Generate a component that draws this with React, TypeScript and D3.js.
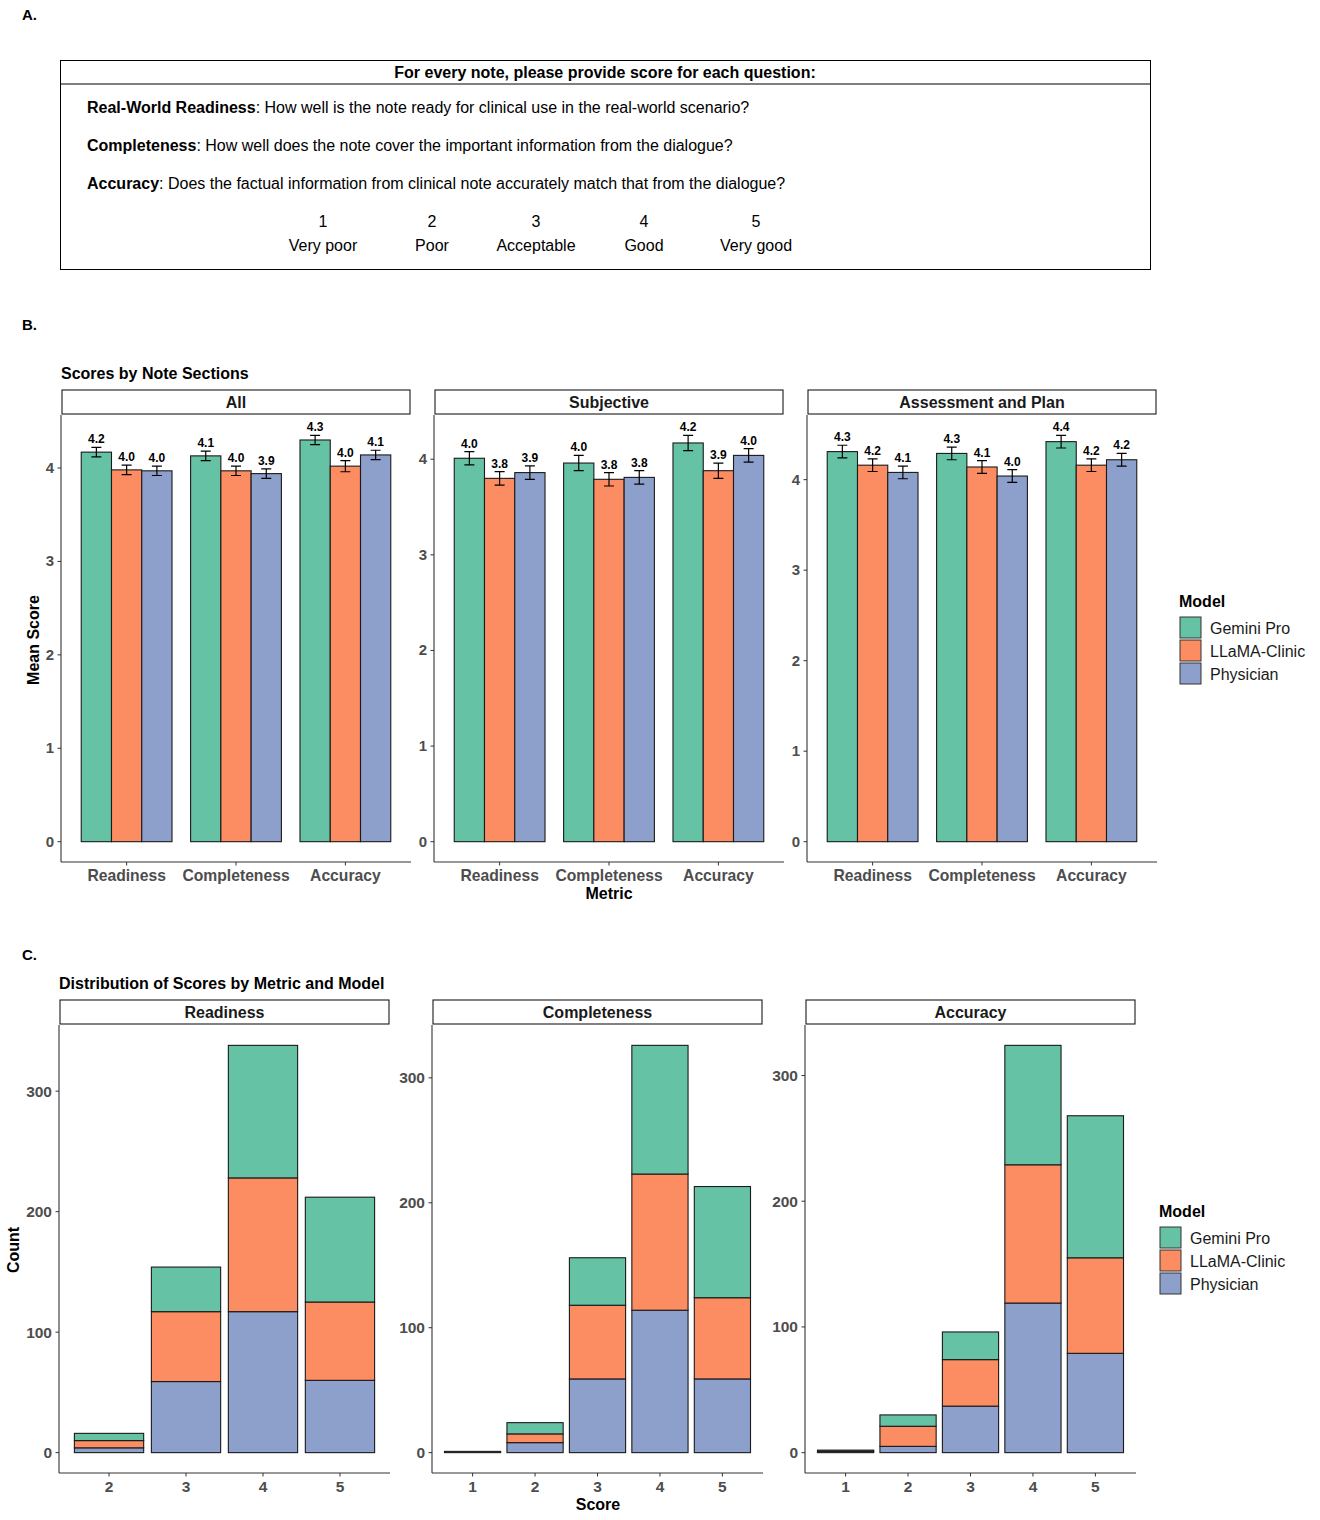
import * as d3 from "d3";

const FONT = "Liberation Sans, Arial, Helvetica, sans-serif";

const models = ["Gemini Pro", "LLaMA-Clinic", "Physician"];
const modelColors = ["#66c2a5", "#fc8d62", "#8da0cb"];
const metrics = ["Readiness", "Completeness", "Accuracy"];
const sections = ["All", "Subjective", "Assessment and Plan"];

// mean score per metric (rows) and model (columns)
const meanAll = [
  [4.17, 3.98, 3.97],
  [4.13, 3.97, 3.94],
  [4.3, 4.02, 4.14],
];
const meanSubjective = [
  [4.01, 3.8, 3.86],
  [3.96, 3.79, 3.81],
  [4.17, 3.88, 4.04],
];
const meanAssessment = [
  [4.31, 4.16, 4.08],
  [4.29, 4.14, 4.04],
  [4.42, 4.16, 4.22],
];
// standard errors
const errAll = [
  [0.05, 0.05, 0.05],
  [0.05, 0.05, 0.05],
  [0.05, 0.06, 0.05],
];
const errSubjective = [
  [0.07, 0.07, 0.07],
  [0.08, 0.07, 0.07],
  [0.08, 0.08, 0.07],
];
const errAssessment = [
  [0.07, 0.07, 0.07],
  [0.07, 0.07, 0.07],
  [0.07, 0.07, 0.07],
];

// score distributions
const readinessScores = ["2", "3", "4", "5"];
const readinessGemini = [6, 37, 110, 87];
const readinessLlama = [6, 58, 111, 65];
const readinessPhysician = [4, 59, 117, 60];

const completenessScores = ["1", "2", "3", "4", "5"];
const completenessGemini = [1, 9, 38, 103, 89];
const completenessLlama = [0, 7, 59, 109, 65];
const completenessPhysician = [0, 8, 59, 114, 59];

const accuracyScores = ["1", "2", "3", "4", "5"];
const accuracyGemini = [1, 9, 22, 95, 113];
const accuracyLlama = [1, 16, 37, 110, 76];
const accuracyPhysician = [0, 5, 37, 119, 79];

const scaleLevels = ["1", "2", "3", "4", "5"];
const scaleNames = ["Very poor", "Poor", "Acceptable", "Good", "Very good"];

const AXIS = "#333333";
const TICK_TEXT = "#4d4d4d";
const BAR_STROKE = "#1a1a1a";

function Strip({ x, y, w, label }) {
  return (
    <g>
      <rect x={x + 1} y={y} width={w - 2} height={24} fill="white" stroke={BAR_STROKE} strokeWidth={1.1} />
      <text x={x + w / 2} y={y + 18} textAnchor="middle" fontSize={16} fontWeight="bold" fill="#1a1a1a">
        {label}
      </text>
    </g>
  );
}

function MeanPanel({ x0, label, means, errs }) {
  const w = 350;
  const top = 415;
  const bottom = 862;
  const yMax = d3.max(means.flatMap((r, i) => r.map((m, j) => m + errs[i][j])));
  const pad = yMax * 0.05;
  const y = d3.scaleLinear().domain([-pad, yMax + pad]).range([bottom, top]);
  const x = d3.scalePoint().domain(metrics).range([x0, x0 + w]).padding(0.6);
  const step = x.step();
  const groupW = step * 0.83;
  const xm = d3.scaleBand().domain(models).range([0, groupW]);
  const fmt = d3.format(".1f");
  return (
    <g>
      <Strip x={x0} y={390} w={w} label={label} />
      {metrics.map((m, i) =>
        models.map((md, j) => {
          const bx = x(m) - groupW / 2 + xm(md);
          const v = means[i][j];
          const e = errs[i][j];
          const cx = bx + xm.bandwidth() / 2;
          return (
            <g key={m + md}>
              <rect x={bx} y={y(v)} width={xm.bandwidth()} height={y(0) - y(v)} fill={modelColors[j]} stroke={BAR_STROKE} strokeWidth={1.1} />
              <path
                d={`M${cx - 5},${y(v + e)}H${cx + 5}M${cx},${y(v + e)}V${y(v - e)}M${cx - 5},${y(v - e)}H${cx + 5}`}
                stroke="black"
                strokeWidth={1.2}
                fill="none"
              />
              <text x={cx} y={y(v + e) - 4} textAnchor="middle" fontSize={12} fontWeight="bold" fill="black">
                {fmt(v)}
              </text>
            </g>
          );
        })
      )}
      <line x1={x0} x2={x0} y1={top} y2={bottom} stroke={AXIS} strokeWidth={1.1} />
      <line x1={x0} x2={x0 + w} y1={bottom} y2={bottom} stroke={AXIS} strokeWidth={1.1} />
      {[0, 1, 2, 3, 4].map((t) => (
        <g key={t}>
          <line x1={x0 - 3.5} x2={x0} y1={y(t)} y2={y(t)} stroke={AXIS} strokeWidth={1} />
          <text x={x0 - 7} y={y(t) + 5} textAnchor="end" fontSize={15} fontWeight="bold" fill={TICK_TEXT}>
            {t}
          </text>
        </g>
      ))}
      {metrics.map((m) => (
        <g key={m}>
          <line x1={x(m)} x2={x(m)} y1={bottom} y2={bottom + 3.5} stroke={AXIS} strokeWidth={1} />
          <text x={x(m)} y={bottom + 19} textAnchor="middle" fontSize={15.7} fontWeight="bold" fill={TICK_TEXT}>
            {m}
          </text>
        </g>
      ))}
    </g>
  );
}

function CountPanel({ x0, label, scores, series }) {
  const w = 331;
  const top = 1025;
  const bottom = 1473;
  const rows = scores.map((s, i) => ({
    score: s,
    Physician: series[2][i],
    "LLaMA-Clinic": series[1][i],
    "Gemini Pro": series[0][i],
  }));
  const stack = d3.stack().keys(["Physician", "LLaMA-Clinic", "Gemini Pro"])(rows);
  const yMax = d3.max(rows, (r) => r.Physician + r["LLaMA-Clinic"] + r["Gemini Pro"]);
  const pad = yMax * 0.05;
  const y = d3.scaleLinear().domain([-pad, yMax + pad]).range([bottom, top]);
  const x = d3.scalePoint().domain(scores).range([x0, x0 + w]).padding(0.65);
  const bw = x.step() * 0.9;
  return (
    <g>
      <Strip x={x0} y={1000} w={w} label={label} />
      {stack.map((layer) => {
        const ci = models.indexOf(layer.key);
        return layer.map((d, i) =>
          d[1] - d[0] > 0 ? (
            <rect
              key={layer.key + i}
              x={x(scores[i]) - bw / 2}
              y={y(d[1])}
              width={bw}
              height={y(d[0]) - y(d[1])}
              fill={modelColors[ci]}
              stroke={BAR_STROKE}
              strokeWidth={1.1}
            />
          ) : null
        );
      })}
      <line x1={x0} x2={x0} y1={top} y2={bottom} stroke={AXIS} strokeWidth={1.1} />
      <line x1={x0} x2={x0 + w} y1={bottom} y2={bottom} stroke={AXIS} strokeWidth={1.1} />
      {y.ticks(4).filter((t) => t >= 0 && t % 100 === 0).map((t) => (
        <g key={t}>
          <line x1={x0 - 3.5} x2={x0} y1={y(t)} y2={y(t)} stroke={AXIS} strokeWidth={1} />
          <text x={x0 - 7} y={y(t) + 5.5} textAnchor="end" fontSize={15.5} fontWeight="bold" fill={TICK_TEXT}>
            {t}
          </text>
        </g>
      ))}
      {scores.map((s) => (
        <g key={s}>
          <line x1={x(s)} x2={x(s)} y1={bottom} y2={bottom + 3.5} stroke={AXIS} strokeWidth={1} />
          <text x={x(s)} y={bottom + 19} textAnchor="middle" fontSize={15.5} fontWeight="bold" fill={TICK_TEXT}>
            {s}
          </text>
        </g>
      ))}
    </g>
  );
}

function Legend({ x, y }) {
  return (
    <g>
      <text x={x - 1} y={y} fontSize={16} fontWeight="bold" fill="black">
        Model
      </text>
      {models.map((m, i) => (
        <g key={m}>
          <rect x={x} y={y + 10 + i * 23} width={21} height={21} fill={modelColors[i]} stroke="#333" strokeWidth={1} />
          <text x={x + 30} y={y + 26.5 + i * 23} fontSize={16} fill="#1a1a1a">
            {m}
          </text>
        </g>
      ))}
    </g>
  );
}

const questions = [
  ["Real-World Readiness", ": How well is the note ready for clinical use in the real-world scenario?"],
  ["Completeness", ": How well does the note cover the important information from the dialogue?"],
  ["Accuracy", ": Does the factual information from clinical note accurately match that from the dialogue?"],
];
const scaleX = [323, 432, 536, 644, 756];

export default function App() {
  return (
    <svg
      width={1320}
      height={1520}
      style={{ position: "absolute", left: 0, top: 0, background: "white" }}
      fontFamily={FONT}
    >
      {/* A. */}
      <text x={22} y={20} fontSize={15} fontWeight="bold">A.</text>
      <rect x={60.5} y={60.5} width={1090} height={209} fill="white" stroke="black" strokeWidth={1} />
      <line x1={60.5} x2={1150.5} y1={84} y2={84} stroke="black" strokeWidth={1} />
      <text x={605} y={77.5} textAnchor="middle" fontSize={16} fontWeight="bold">
        For every note, please provide score for each question:
      </text>
      {questions.map((q, i) => (
        <text key={q[0]} x={87} y={112.5 + i * 38} fontSize={16}>
          <tspan fontWeight="bold">{q[0]}</tspan>
          <tspan>{q[1]}</tspan>
        </text>
      ))}
      {scaleLevels.map((s, i) => (
        <g key={s}>
          <text x={scaleX[i]} y={227} textAnchor="middle" fontSize={16}>{s}</text>
          <text x={scaleX[i]} y={250.5} textAnchor="middle" fontSize={16}>{scaleNames[i]}</text>
        </g>
      ))}

      {/* B. */}
      <text x={22} y={330} fontSize={15} fontWeight="bold">B.</text>
      <text x={61} y={379} fontSize={16} fontWeight="bold">Scores by Note Sections</text>
      <MeanPanel x0={61} label={sections[0]} means={meanAll} errs={errAll} />
      <MeanPanel x0={434} label={sections[1]} means={meanSubjective} errs={errSubjective} />
      <MeanPanel x0={807} label={sections[2]} means={meanAssessment} errs={errAssessment} />
      <text transform="translate(39,640) rotate(-90)" textAnchor="middle" fontSize={16} fontWeight="bold">
        Mean Score
      </text>
      <text x={609} y={899} textAnchor="middle" fontSize={16} fontWeight="bold">Metric</text>
      <Legend x={1180} y={607} />

      {/* C. */}
      <text x={22} y={960} fontSize={15} fontWeight="bold">C.</text>
      <text x={59} y={989} fontSize={16} fontWeight="bold">Distribution of Scores by Metric and Model</text>
      <CountPanel
        x0={59}
        label="Readiness"
        scores={readinessScores}
        series={[readinessGemini, readinessLlama, readinessPhysician]}
      />
      <CountPanel
        x0={432}
        label="Completeness"
        scores={completenessScores}
        series={[completenessGemini, completenessLlama, completenessPhysician]}
      />
      <CountPanel
        x0={805}
        label="Accuracy"
        scores={accuracyScores}
        series={[accuracyGemini, accuracyLlama, accuracyPhysician]}
      />
      <text transform="translate(19,1250) rotate(-90)" textAnchor="middle" fontSize={16} fontWeight="bold">
        Count
      </text>
      <text x={598} y={1510} textAnchor="middle" fontSize={16} fontWeight="bold">Score</text>
      <Legend x={1160} y={1217} />
    </svg>
  );
}
